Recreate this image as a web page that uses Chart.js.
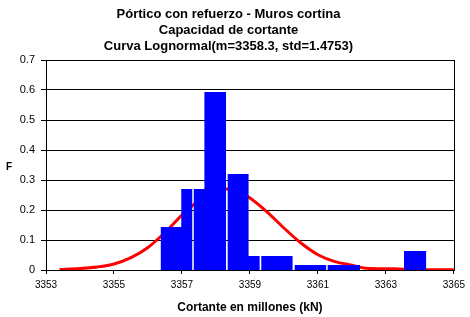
<!DOCTYPE html>
<html>
<head>
<meta charset="utf-8">
<script src="https://cdn.jsdelivr.net/npm/chart.js@4"></script>
<style>
  html, body { margin: 0; padding: 0; background: #fff; }
  #wrap { width: 470px; height: 317px; }
</style>
</head>
<body>
<div id="wrap"><canvas id="chart" width="470" height="317"></canvas></div>
<script>
// histogram bins (left edge, right edge, relative frequency)
const binLeft  = [3356.37, 3356.98, 3357.34, 3357.66, 3358.33, 3358.35, 3358.96, 3359.33, 3360.31, 3361.28, 3363.53];
const binRight = [3356.98, 3357.31, 3357.66, 3358.30, 3358.35, 3358.96, 3359.29, 3360.26, 3361.25, 3362.24, 3364.19];
const binFreq  = [0.143, 0.27, 0.27, 0.593, 0.593, 0.32, 0.047, 0.047, 0.017, 0.017, 0.063];

// lognormal curve
const curveX = [3353.4, 3354, 3354.5, 3355, 3355.5, 3356, 3356.5, 3357, 3357.5, 3358, 3358.3,
                3358.6, 3359, 3359.5, 3360, 3360.5, 3361, 3361.5, 3362, 3362.4, 3363.2, 3363.6, 3365];
const curveF = [0.002, 0.005, 0.01, 0.02, 0.041, 0.075, 0.125, 0.183, 0.232, 0.262, 0.27,
                0.265, 0.24, 0.194, 0.14, 0.09, 0.051, 0.028, 0.016, 0.006, 0.004, 0.002, 0.001];

const titleLines = ["Pórtico con refuerzo - Muros cortina", "Capacidad de cortante", "Curva Lognormal(m=3358.3, std=1.4753)"];
const xTitle = "Cortante en millones (kN)";
const yTitle = "F";

const FONT = '"Liberation Sans", Arial, sans-serif';
Chart.defaults.color = "#000";
Chart.defaults.font.family = FONT;

// join touching bins into one outline so no seams show between them
const runs = [];
binLeft.forEach((l, i) => {
  const pts = [{ x: l, y: binFreq[i] }, { x: binRight[i], y: binFreq[i] }];
  if (i > 0 && l === binRight[i - 1]) {
    runs[runs.length - 1].push(...pts);
  } else {
    runs.push([{ x: l, y: 0 }, ...pts]);
  }
});
runs.forEach(r => r.push({ x: r[r.length - 1].x, y: 0 }));

const barSets = runs.map(pts => ({
  data: pts,
  showLine: true,
  fill: "origin",
  backgroundColor: "#0000ff",
  borderWidth: 0,
  borderColor: "rgba(0,0,0,0)",
  pointRadius: 0,
  tension: 0,
  order: 1
}));

const curveSet = {
  data: curveX.map((x, i) => ({ x, y: curveF[i] })),
  showLine: true,
  borderColor: "#ff0000",
  borderWidth: 3,
  pointRadius: 0,
  fill: false,
  cubicInterpolationMode: "monotone",
  order: 2
};

// plot frame and the upright "F" label
const frame = {
  id: "frame",
  afterDraw(chart) {
    const { ctx, chartArea: a } = chart;
    ctx.save();
    ctx.strokeStyle = "#000";
    ctx.lineWidth = 1;
    ctx.strokeRect(Math.round(a.left) + 0.5, Math.round(a.top) + 0.5,
                   Math.round(a.right - a.left), Math.round(a.bottom - a.top));
    ctx.font = "bold 10px " + FONT;
    ctx.fillStyle = "#000";
    ctx.textAlign = "center";
    ctx.textBaseline = "middle";
    ctx.fillText(yTitle, 9, 167);
    ctx.restore();
  }
};

new Chart(document.getElementById("chart"), {
  type: "scatter",
  data: { datasets: [...barSets, curveSet] },
  options: {
    responsive: false,
    animation: false,
    layout: { padding: { left: 0, right: 13, top: 0, bottom: 0 } },
    plugins: {
      legend: { display: false },
      tooltip: { enabled: false },
      title: {
        display: true,
        text: titleLines,
        font: { size: 13, weight: "bold", lineHeight: 1.25 },
        padding: { top: 6, bottom: 5.25 }
      }
    },
    scales: {
      x: {
        type: "linear",
        min: 3353,
        max: 3365,
        afterFit(s) { s.height = 47; },
        ticks: { stepSize: 2, font: { size: 10 }, padding: 5, maxRotation: 0,
                 callback: v => String(v) },
        grid: { drawOnChartArea: false, drawTicks: true, tickLength: 4, color: "#000" },
        border: { color: "#000" },
        title: { display: true, text: xTitle, font: { size: 12, weight: "bold" },
                 padding: { top: 4, bottom: 2 } }
      },
      y: {
        min: 0,
        max: 0.7,
        afterFit(s) { s.width = 46; },
        ticks: { stepSize: 0.1, font: { size: 11 }, padding: 6 },
        grid: { color: "#000", tickLength: 5 },
        border: { color: "#000" }
      }
    }
  },
  plugins: [frame]
});
</script>
</body>
</html>
